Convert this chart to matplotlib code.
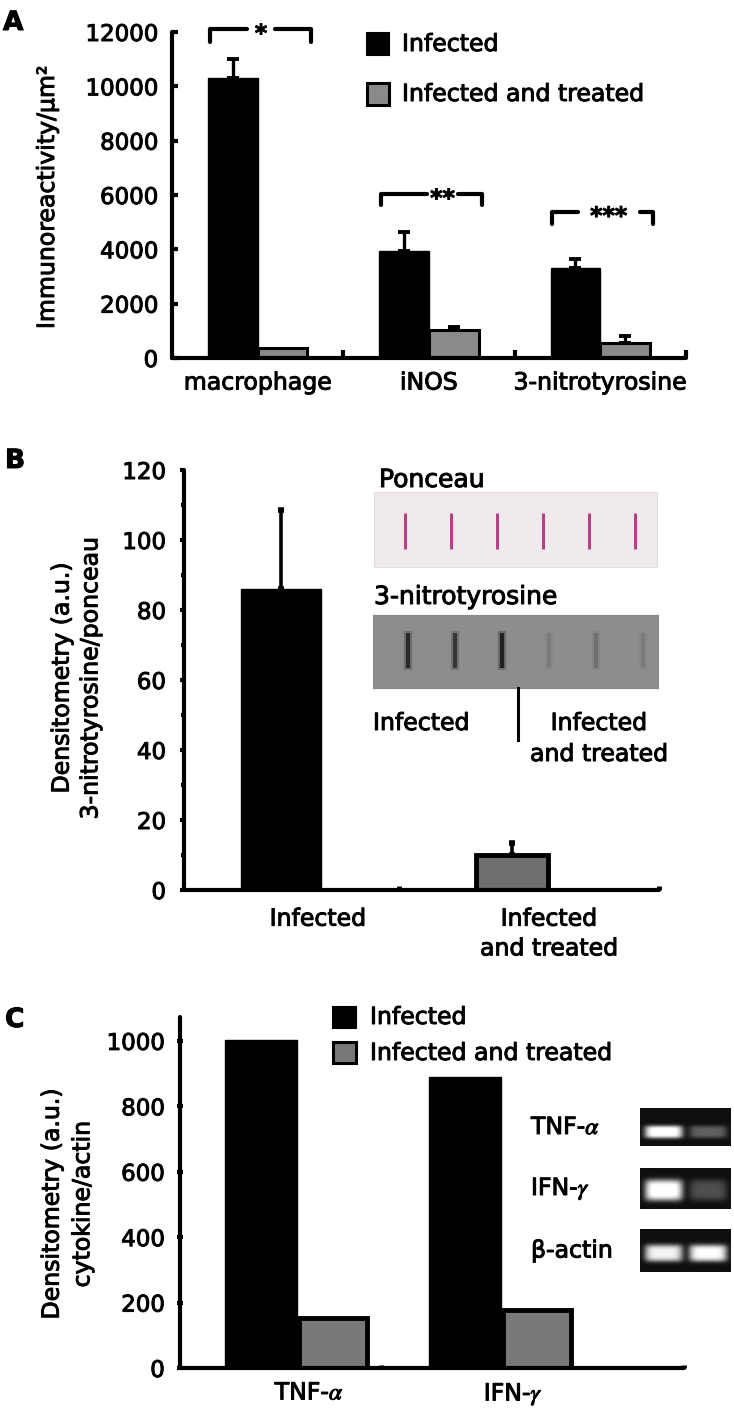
import numpy as np
import matplotlib
matplotlib.use("Agg")
import matplotlib.pyplot as plt
import matplotlib.patheffects as pe
from matplotlib.lines import Line2D
from matplotlib.patches import Rectangle
from matplotlib.text import Text

W, H = 734, 1412
DPI = 100

plt.rcParams['font.family'] = ['DejaVu Sans']
plt.rcParams['mathtext.fontset'] = 'stix'

# ---------------- data ----------------
a_categories = ["macrophage", "iNOS", "3-nitrotyrosine"]
a_infected = [10300, 3950, 3300]
a_infected_err = [700, 700, 330]
a_treated = [380, 1030, 565]
a_treated_err = [0, 120, 245]
a_stars = ["*", "**", "***"]
a_bracket_top = [12100, 6030, 5380]
a_bracket_leg = [11650, 5630, 4940]
a_yticks = [0, 2000, 4000, 6000, 8000, 10000, 12000]

b_categories = ["Infected", "Infected\nand treated"]
b_values = [86, 10]
b_err = [22.5, 3.5]
b_yticks = [0, 20, 40, 60, 80, 100, 120]
ponceau_lanes = [1.0, 1.0, 1.0, 1.0, 1.0, 1.0]
nitro_lanes = [0.85, 0.7, 0.95, 0.12, 0.2, 0.12]

c_categories = ["TNF-$\\alpha$", "IFN-$\\gamma$"]
c_infected = [1003, 890]
c_treated = [153, 178]
c_yticks = [0, 200, 400, 600, 800, 1000]
gel_names = ["TNF-$\\alpha$", "IFN-$\\gamma$", "β-actin"]
gel_tnf = [1.0, 0.32]
gel_ifn = [1.0, 0.25]
gel_actin = [0.9, 0.95]

legend_labels = ["Infected", "Infected and treated"]

# ---------------- helpers ----------------
fig = plt.figure(figsize=(W / DPI, H / DPI), dpi=DPI)


def ax_px(l, t, r, b, **kw):
    return fig.add_axes([l / W, 1 - b / H, (r - l) / W, (b - t) / H], **kw)


def ftext(x, y, s, **kw):
    return fig.text(x / W, 1 - y / H, s, **kw)


def frect(l, t, r, b, **kw):
    fig.add_artist(Rectangle((l / W, 1 - b / H), (r - l) / W, (b - t) / H,
                             transform=fig.transFigure, **kw))


def fline(xs, ys, **kw):
    fig.add_artist(Line2D([x / W for x in xs], [1 - y / H for y in ys],
                          transform=fig.transFigure, **kw))


def style_axes(ax):
    for s in ("top", "right"):
        ax.spines[s].set_visible(False)
    for s in ("left", "bottom"):
        ax.spines[s].set_linewidth(3)
        ax.spines[s].set_capstyle("round")


TICK_FS = 16.5
LAB_FS = 17
GRAY_A = "#8a8a8a"
GRAY_B = "#6e6e6e"
GRAY_C = "#787878"

# ================= Panel A =================
axA = ax_px(172, 32, 686, 358)
style_axes(axA)
xa = np.arange(len(a_categories))
bw = 0.29
axA.bar(xa + 0.5 - bw / 2, a_infected, width=bw, color="black", edgecolor="black", lw=1, zorder=2)
axA.bar(xa + 0.5 + bw / 2, a_treated, width=bw, color=GRAY_A, edgecolor="black", lw=2.2, zorder=2)
axA.errorbar(xa + 0.5 - bw / 2, a_infected, yerr=[np.zeros(3), a_infected_err],
             fmt="none", ecolor="black", elinewidth=2.4, capsize=4.5, capthick=2.8, zorder=3)
te = np.array(a_treated_err)
m = te > 0
axA.errorbar((xa + 0.5 + bw / 2)[m], np.array(a_treated)[m], yerr=[np.zeros(m.sum()), te[m]],
             fmt="none", ecolor="black", elinewidth=2.4, capsize=4.5, capthick=2.8, zorder=3)
axA.set_xlim(0, 3)
axA.set_ylim(0, 12000)
axA.set_yticks(a_yticks)
axA.set_yticklabels([str(v) for v in a_yticks], fontsize=TICK_FS)
axA.tick_params(axis="y", direction="in", length=4, width=3, pad=10)
axA.set_xticks(xa + 0.5)
axA.set_xticklabels(a_categories, fontsize=LAB_FS)
axA.tick_params(axis="x", which="major", length=0, pad=9)
axA.set_xticks([1, 2, 3], minor=True)
axA.tick_params(axis="x", which="minor", direction="in", length=6, width=3)

# significance brackets
br_l, br_r = 0.22, 0.81
gaps = [(0.44, 0.60), (0.49, 0.67), (0.37, 0.73)]
for i, (s, top, leg) in enumerate(zip(a_stars, a_bracket_top, a_bracket_leg)):
    gl, gr = gaps[i]
    kw = dict(color="black", lw=3, solid_capstyle="round", solid_joinstyle="round", clip_on=False)
    axA.plot([i + br_l, i + br_l, i + gl], [leg, top, top], **kw)
    axA.plot([i + gr, i + br_r, i + br_r], [top, top, leg], **kw)
    axA.annotate(s, xy=(i + (gl + gr) / 2, top), xytext=(0, -8.5), textcoords="offset points",
                 ha="center", va="baseline", fontsize=LAB_FS, fontweight="bold", annotation_clip=False)

# legend A
frect(367, 33, 389, 55, facecolor="black", edgecolor="black", lw=1.5)
frect(367, 83, 389, 105, facecolor=GRAY_A, edgecolor="black", lw=2.2)
ftext(402, 44, legend_labels[0], fontsize=LAB_FS, ha="left", va="center")
ftext(402, 94, legend_labels[1], fontsize=LAB_FS, ha="left", va="center")

ftext(47, 197, "Immunoreactivity/μm²", fontsize=LAB_FS, rotation=90, ha="center", va="center")
ftext(3, 30, "A", fontsize=19, fontweight="bold", ha="left", va="baseline")

# ================= Panel B =================
axB = ax_px(184, 470, 659, 890)
style_axes(axB)
xb = np.arange(len(b_categories))
axB.bar(xb[0], b_values[0], width=0.345, color="black", edgecolor="black", lw=1, zorder=2)
axB.bar(xb[1], b_values[1], width=0.31, color=GRAY_B, edgecolor="black", lw=3.5, zorder=2)
axB.errorbar(xb, b_values, yerr=[np.zeros(2), b_err], fmt="none", ecolor="black",
             elinewidth=2.6, capsize=2.5, capthick=4, zorder=1)
axB.set_xlim(-0.42, 1.636)
axB.set_ylim(0, 120)
axB.set_yticks(b_yticks)
axB.set_yticklabels([str(v) for v in b_yticks], fontsize=TICK_FS)
axB.set_yticks(np.arange(10, 120, 20), minor=True)
axB.tick_params(axis="y", which="major", direction="out", length=3, width=3, pad=10)
axB.tick_params(axis="y", which="minor", direction="out", length=2.5, width=3)
axB.set_xticks(xb + 0.16)
axB.set_xticklabels(b_categories, fontsize=LAB_FS, linespacing=1.3)
axB.tick_params(axis="x", which="major", length=0, pad=12)
axB.set_xticks([0.51, 1.636], minor=True)
axB.tick_params(axis="x", which="minor", direction="in", length=3, width=3.5)

ftext(76, 678, "Densitometry (a.u.)\n3-nitrotyrosine/ponceau", fontsize=LAB_FS, rotation=90,
      ha="center", va="center", multialignment="center", linespacing=1.25)
ftext(5, 468, "B", fontsize=19, fontweight="bold", ha="left", va="baseline")

# Ponceau strip
axP = ax_px(374, 492, 657, 567)
axP.set_facecolor("#f1eaed")
for sp in axP.spines.values():
    sp.set_color("#e4dcdf")
axP.set_xticks([])
axP.set_yticks([])
axP.set_xlim(-0.674, 5.478)
axP.set_ylim(1, 0)
for i, v in enumerate(ponceau_lanes):
    axP.vlines(i, 0.28, 0.76, color="#b02e78", lw=2.2 * v, alpha=0.9)
ftext(379, 487, "Ponceau", fontsize=18, ha="left", va="baseline")

# 3-nitrotyrosine strip
axN = ax_px(373, 615, 658, 688)
axN.set_facecolor("#8d8d8d")
for sp in axN.spines.values():
    sp.set_color("#888888")
axN.set_xticks([])
axN.set_yticks([])
axN.set_xlim(-0.745, 5.32)
axN.set_ylim(1, 0)
for i, v in enumerate(nitro_lanes):
    axN.vlines(i, 0.22, 0.76, color="#1c1c1c", lw=6, alpha=0.3 * v)
    axN.vlines(i, 0.25, 0.73, color="#1c1c1c", lw=3, alpha=v)
ftext(374, 604, "3-nitrotyrosine", fontsize=18, ha="left", va="baseline")
fline([518, 518], [688, 740], color="black", lw=2.2)
ftext(373, 730, "Infected", fontsize=LAB_FS, ha="left", va="baseline")
ftext(599, 730, "Infected", fontsize=LAB_FS, ha="center", va="baseline")
ftext(599, 761, "and treated", fontsize=LAB_FS, ha="center", va="baseline")

# ================= Panel C =================
axC = ax_px(180, 1017, 684, 1368)
style_axes(axC)
xc = np.arange(len(c_categories))
cw = 0.355
axC.bar(xc - cw / 2, c_infected, width=cw, color="black", edgecolor="black", lw=1, zorder=2)
axC.bar(xc + cw / 2, c_treated, width=cw - 0.02, color=GRAY_C, edgecolor="black", lw=3.5, zorder=2)
axC.set_xlim(-0.574, 1.897)
axC.set_ylim(0, 1073)
axC.set_yticks(c_yticks)
axC.set_yticklabels([str(v) for v in c_yticks], fontsize=TICK_FS)
axC.tick_params(axis="y", direction="inout", length=4, width=3, pad=9)
axC.set_xticks(xc + 0.06)
axC.set_xticklabels(c_categories, fontsize=LAB_FS)
axC.tick_params(axis="x", which="major", length=0, pad=9)
axC.set_xticks([0.41, 1.897], minor=True)
axC.tick_params(axis="x", which="minor", direction="in", length=2, width=3.5)

frect(333, 1007, 356, 1028, facecolor="black", edgecolor="black", lw=1.5)
frect(333, 1042, 356, 1063, facecolor=GRAY_C, edgecolor="black", lw=2.2)
ftext(370, 1017, legend_labels[0], fontsize=LAB_FS, ha="left", va="center")
ftext(370, 1053, legend_labels[1], fontsize=LAB_FS, ha="left", va="center")

ftext(67, 1204, "Densitometry (a.u.)\ncytokine/actin", fontsize=LAB_FS, rotation=90,
      ha="center", va="center", multialignment="center", linespacing=1.35)
ftext(5, 1027, "C", fontsize=19, fontweight="bold", ha="left", va="baseline")

# gel images
gel_rows = [(1108, 1146, gel_tnf, 0.63, 0.17), (1168, 1209, gel_ifn, 0.54, 0.26),
            (1229, 1272, gel_actin, 0.56, 0.2)]
lane_x = [0.26, 0.75]
for (top, bot, intens, cy, hh), name in zip(gel_rows, gel_names):
    axG = ax_px(640, top, 731, bot)
    ny, nx = 80, 160
    yy, xx = np.mgrid[0:1:ny * 1j, 0:1:nx * 1j]
    img = np.full_like(xx, 0.06)
    for cx, a in zip(lane_x, intens):
        img += a * np.exp(-((xx - cx) / 0.21) ** 6 - ((yy - cy) / hh) ** 4)
    axG.imshow(np.clip(img, 0, 1), cmap="gray", vmin=0, vmax=1, extent=[0, 1, 1, 0],
               aspect="auto", interpolation="bilinear")
    axG.set_xticks([])
    axG.set_yticks([])
    for sp in axG.spines.values():
        sp.set_visible(False)
    ftext(531, (top + bot) / 2, name, fontsize=LAB_FS, ha="left", va="center")

# slightly heavier text strokes, as in the reference
for t in fig.findobj(Text):
    if t.get_text():
        t.set_path_effects([pe.withStroke(linewidth=0.7, foreground="black")])

fig.savefig("out.png", dpi=DPI)
